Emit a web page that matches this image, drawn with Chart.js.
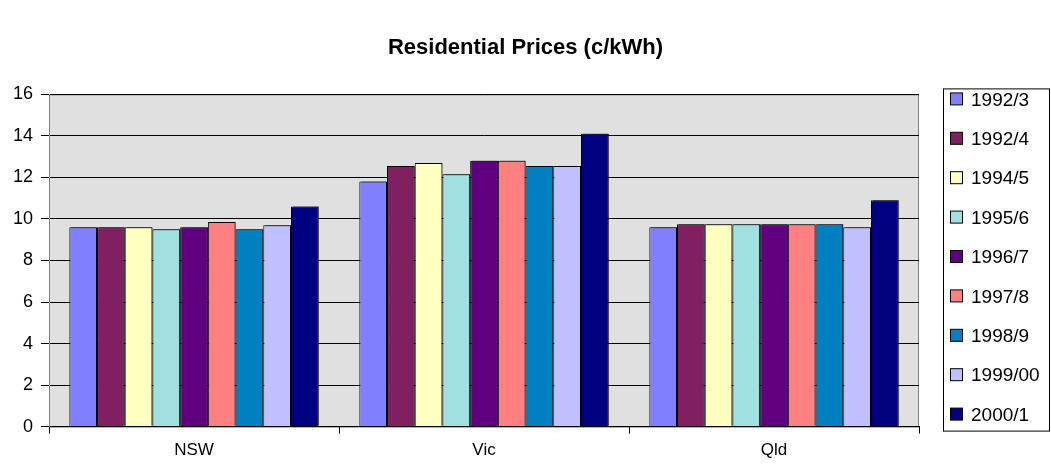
<!DOCTYPE html>
<html>
<head>
<meta charset="utf-8">
<script src="https://cdn.jsdelivr.net/npm/chart.js@4/dist/chart.umd.min.js"></script>
<style>
  html, body { margin: 0; padding: 0; background: #fff; }
  #wrap { width: 1051px; height: 470px; }
</style>
</head>
<body>
<div id="wrap"><canvas id="prices"></canvas></div>
<script>
// data
let regions = ["NSW", "Vic", "Qld"];
let years = ["1992/3", "1992/4", "1994/5", "1995/6", "1996/7", "1997/8", "1998/9", "1999/00", "2000/1"];
let nsw = [9.6, 9.6, 9.6, 9.5, 9.6, 9.85, 9.5, 9.7, 10.6];
let vic = [11.8, 12.55, 12.7, 12.15, 12.8, 12.8, 12.55, 12.55, 14.1];
let qld = [9.6, 9.75, 9.75, 9.75, 9.75, 9.75, 9.75, 9.6, 10.9];
let yearColours = ["#8080FF", "#802060", "#FFFFC0", "#A0E0E0", "#600080", "#FF8080", "#0080C0", "#C0C0FF", "#000080"];
let yTicks = [0, 2, 4, 6, 8, 10, 12, 14, 16];

const fontName = "'Liberation Sans', Arial, sans-serif";

let datasets = years.map((yr, i) => {
    return {
        label: yr,
        data: [nsw[i], vic[i], qld[i]],
        backgroundColor: yearColours[i],
        borderColor: "#000",
        borderWidth: 1
    };
});

// grey plot area like the old spreadsheet charts
const plotBackground = {
    id: "plotBackground",
    afterLayout(chart) {
        // centre the title over the whole canvas, not just the plot
        const t = chart.titleBlock;
        if (t) {
            t.left = 0;
            t.right = chart.width;
            t.width = chart.width;
        }
    },
    beforeDraw(chart) {
        const a = chart.chartArea;
        const ctx = chart.ctx;
        ctx.save();
        ctx.fillStyle = "#E0E0E0";
        ctx.fillRect(a.left, a.top, a.right - a.left, a.bottom - a.top);
        ctx.strokeStyle = "#808080";
        ctx.lineWidth = 1;
        ctx.strokeRect(a.left + 0.5, a.top + 0.5, a.right - a.left - 1, a.bottom - a.top);
        ctx.restore();
    },
    beforeDatasetsDraw(chart) {
        const ctx = chart.ctx;
        ctx.save();
        ctx.shadowColor = "rgba(0,0,0,0.45)";
        ctx.shadowOffsetX = 2;
        ctx.shadowOffsetY = -1;
    },
    afterDatasetsDraw(chart) {
        chart.ctx.restore();
    }
};

// boxed legend on the right
const boxLegend = {
    id: "boxLegend",
    afterDraw(chart) {
        const ctx = chart.ctx;
        const a = chart.chartArea;
        const left = a.right + 24;
        const top = a.top - 6;
        const w = 107;
        const h = a.bottom - a.top + 11;
        ctx.save();
        ctx.fillStyle = "#fff";
        ctx.fillRect(left, top, w, h);
        ctx.strokeStyle = "#000";
        ctx.lineWidth = 1;
        ctx.strokeRect(left + 0.5, top + 0.5, w - 1, h - 1);
        ctx.font = "19px " + fontName;
        ctx.textBaseline = "middle";
        const step = 39.4;
        chart.data.datasets.forEach((ds, i) => {
            const cy = top + 11 + i * step;
            ctx.fillStyle = ds.backgroundColor;
            ctx.fillRect(left + 7.5, cy - 6.5, 12, 12);
            ctx.strokeStyle = "#000";
            ctx.strokeRect(left + 7.5, cy - 6.5, 12, 12);
            ctx.fillStyle = "#000";
            ctx.fillText(ds.label, left + 28, cy + 1);
        });
        ctx.restore();
    }
};

new Chart(document.getElementById("prices"), {
    type: "bar",
    data: {
        labels: regions,
        datasets: datasets
    },
    options: {
        responsive: true,
        maintainAspectRatio: false,
        animation: false,
        layout: {
            padding: { left: 5, right: 132, top: 0, bottom: 2 }
        },
        datasets: {
            bar: {
                categoryPercentage: 0.86,
                barPercentage: 1.0
            }
        },
        plugins: {
            legend: { display: false },
            tooltip: { enabled: false },
            title: {
                display: true,
                text: "Residential Prices (c/kWh)",
                color: "#000",
                font: { family: fontName, size: 22, weight: "bold" },
                padding: { top: 35, bottom: 33 }
            }
        },
        scales: {
            x: {
                grid: {
                    display: true,
                    drawOnChartArea: false,
                    offset: true,
                    color: "#000",
                    tickLength: 7
                },
                border: { color: "#000" },
                ticks: {
                    color: "#000",
                    padding: 7,
                    font: { family: fontName, size: 17 }
                }
            },
            y: {
                min: 0,
                max: 16,
                afterBuildTicks(axis) {
                    axis.ticks = yTicks.map(v => ({ value: v }));
                },
                grid: {
                    color: "#000",
                    tickLength: 8
                },
                border: { color: "#808080" },
                ticks: {
                    color: "#000",
                    padding: 8,
                    font: { family: fontName, size: 18 }
                }
            }
        }
    },
    plugins: [plotBackground, boxLegend]
});
</script>
</body>
</html>
